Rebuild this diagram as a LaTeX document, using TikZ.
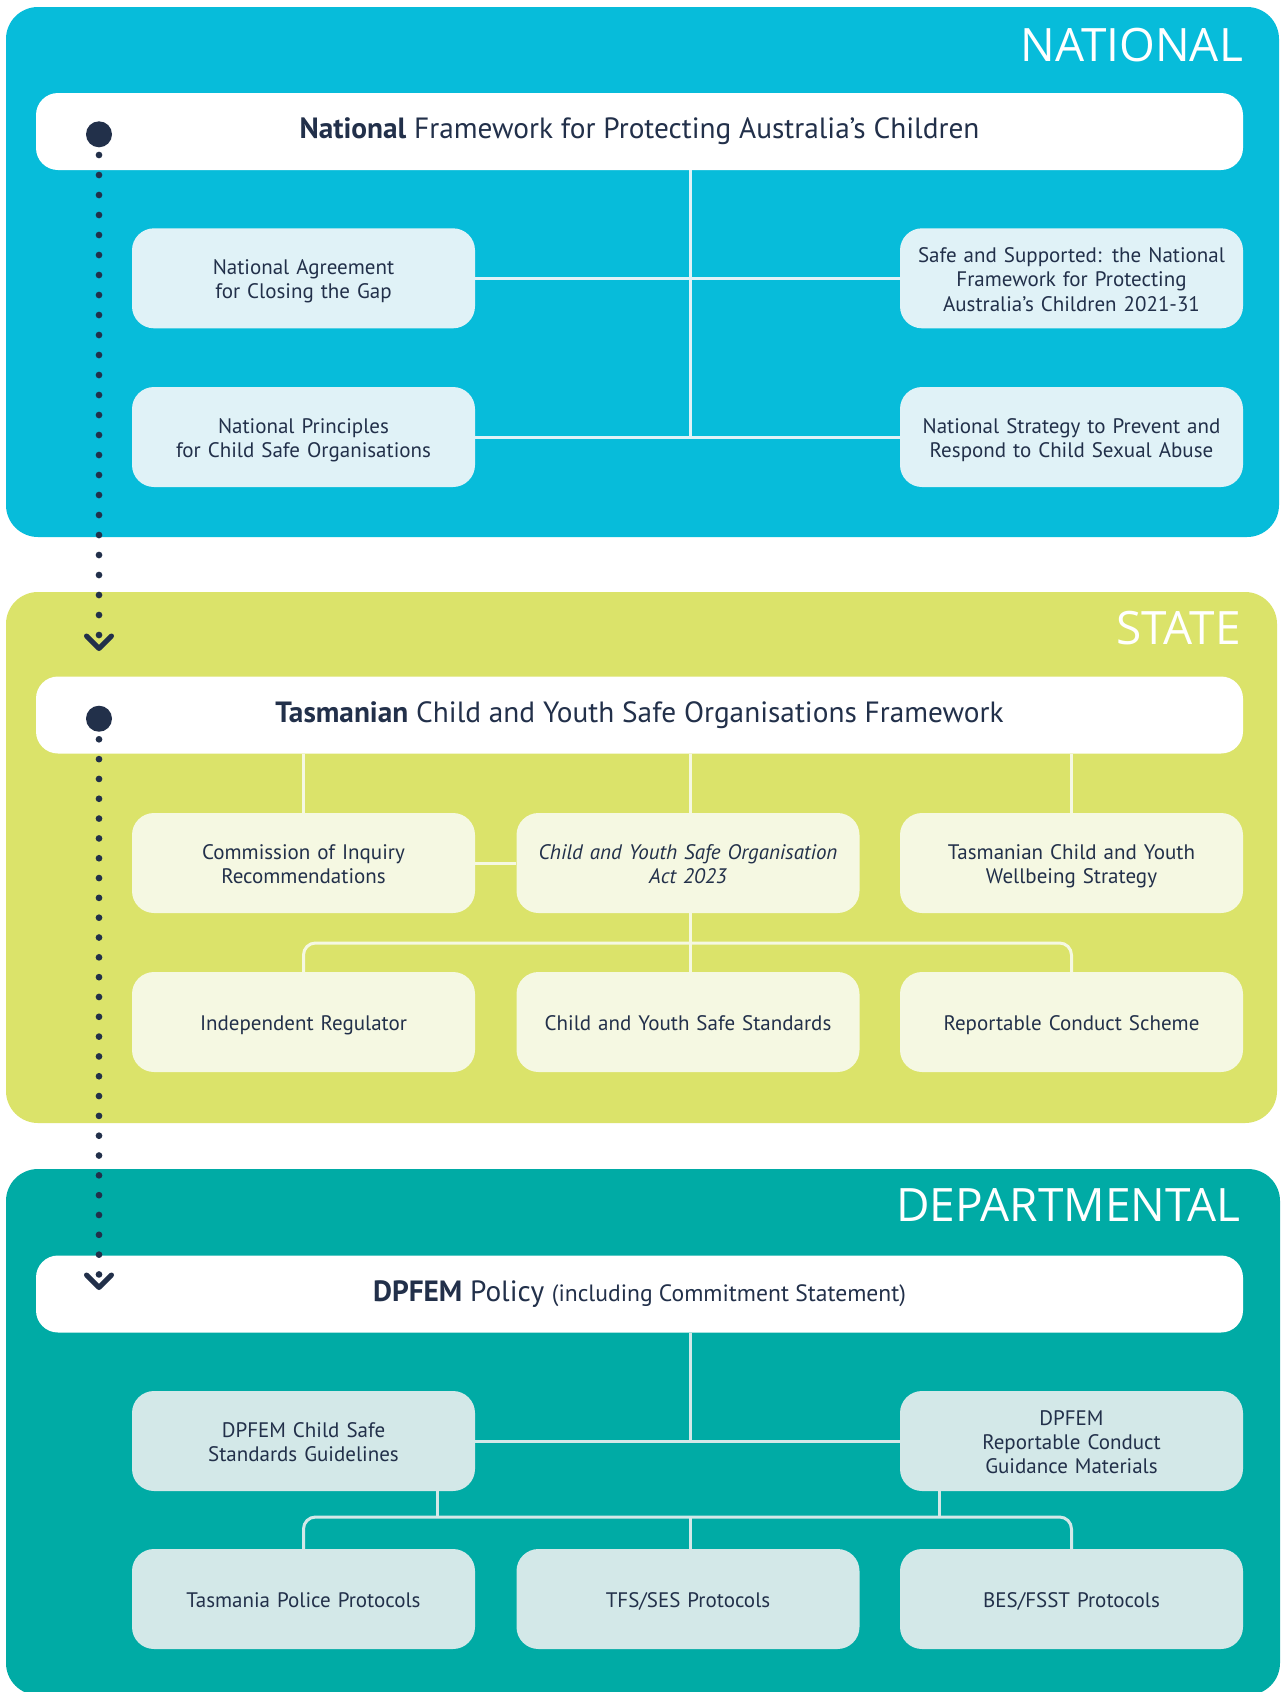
\documentclass[tikz,border=0pt]{standalone}
\usepackage{fontspec}
\setmainfont{PT Sans}
\newfontfamily\titlefont{Open Sans}
\definecolor{natbg}{HTML}{07BCDA}
\definecolor{natbox}{HTML}{E0F2F7}
\definecolor{stbg}{HTML}{DBE36A}
\definecolor{stbox}{HTML}{F5F8E2}
\definecolor{depbg}{HTML}{00ABA5}
\definecolor{depbox}{HTML}{D3E8E8}
\definecolor{ink}{HTML}{22304A}
\begin{document}
\begin{tikzpicture}[x=1pt,y=-1pt,
  panel/.style={rounded corners=32pt},
  hdr/.style={fill=white, rounded corners=22pt, minimum width=1207pt, minimum height=77pt, inner sep=0pt, text=ink, font=\fontsize{29.3}{33}\selectfont},
  subbox/.style={rounded corners=22pt, minimum width=343pt, minimum height=100pt, inner sep=0pt, text width=330pt, align=center, text=ink, font=\fontsize{21}{24.3}\selectfont, execute at begin node={\rule{0pt}{22.5pt}}, execute at end node={\rule[-5.5pt]{0pt}{1pt}}},
  natsub/.style={subbox, fill=natbox},
  stsub/.style={subbox, fill=stbox},
  depsub/.style={subbox, fill=depbox},
  paneltitle/.style={text=white, font=\titlefont\fontsize{46}{50}\selectfont, anchor=base east, inner sep=0pt},
  natln/.style={draw=natbox, line width=3pt},
  stln/.style={draw=stbox, line width=3pt},
  depln/.style={draw=depbox, line width=3pt},
  bigdot/.style={circle, fill=ink, minimum size=26pt, inner sep=0pt},
  dotln/.style={draw=ink, line width=6.7pt, line cap=round, dash pattern=on 0pt off #1},
  chev/.style={draw=ink, line width=5pt, line cap=round, line join=round}
]
\useasboundingbox (0,0) rectangle (1280,1692);
\fill[white] (0,0) rectangle (1280,1692);

% panels
\fill[natbg, panel] (6,7) rectangle (1279,537);
\fill[stbg, panel] (6,592) rectangle (1277,1123);
\fill[depbg, panel] (6,1169) rectangle (1280,1695);

\node[paneltitle] (tN) at (1243,61) {NATIONAL};
\node[paneltitle] (tS) at (1241,644) {STATE};
\node[paneltitle] (tD) at (1241,1221) {DEPARTMENTAL};

% ---------- NATIONAL ----------
\node[hdr] (hN) at (639.5,131.5) {\textbf{National} Framework for Protecting Australia’s Children};
\node[natsub] (NA) at (303.5,278.3) {National Agreement\\for Closing the Gap};
\node[natsub] (NP) at (303.5,437) {National Principles\\for Child Safe Organisations};
\node[natsub] (SS) at (1071.5,278.3) {Safe and Supported: the National\\Framework for Protecting\\Australia’s Children 2021-31};
\node[natsub] (NS) at (1071.5,437) {National Strategy to Prevent and\\Respond to Child Sexual Abuse};
\coordinate (trN) at (690,0);
\draw[natln] (hN.south -| trN) -- (NP.east -| trN);
\draw[natln] (NA.east) -- (SS.west);
\draw[natln] (NP.east) -- (NS.west);

% ---------- STATE ----------
\node[hdr] (hS) at (639.5,715) {\textbf{Tasmanian} Child and Youth Safe Organisations Framework};
\node[stsub] (CI) at (303.5,863) {Commission of Inquiry\\Recommendations};
\node[stsub] (ACT) at (688,863) {\itshape Child and Youth Safe Organisation\\Act 2023};
\node[stsub] (TW) at (1071.5,863) {Tasmanian Child and Youth\\Wellbeing Strategy};
\node[stsub] (IR) at (303.5,1022) {Independent Regulator};
\node[stsub] (CS) at (688,1022) {Child and Youth Safe Standards};
\node[stsub] (RC) at (1071.5,1022) {Reportable Conduct Scheme};
\draw[stln] (hS.south -| CI.north) -- (CI.north);
\draw[stln] (hS.south -| trN) -- (ACT.north -| trN);
\draw[stln] (hS.south -| TW.north) -- (TW.north);
\draw[stln] (CI.east) -- (ACT.west);
\coordinate (brS) at (690,943);
\draw[stln] (ACT.south -| trN) -- (CS.north -| trN);
\draw[stln, rounded corners=12pt] (IR.north) |- (brS) -| (RC.north);

% ---------- DEPARTMENTAL ----------
\node[hdr] (hD) at (639.5,1294) {\textbf{DPFEM} Policy {\fontsize{23.6}{27}\selectfont (including Commitment Statement)}};
\node[depsub] (GL) at (303.5,1441) {DPFEM Child Safe\\Standards Guidelines};
\node[depsub] (RM) at (1071.5,1441) {DPFEM\\Reportable Conduct\\Guidance Materials};
\node[depsub] (TP) at (303.5,1599) {Tasmania Police Protocols};
\node[depsub] (TFS) at (688,1599) {TFS/SES Protocols};
\node[depsub] (BES) at (1071.5,1599) {BES/FSST Protocols};
\draw[depln] (hD.south -| trN) -- (GL.east -| trN);
\draw[depln] (GL.east) -- (RM.west);
\coordinate (brD) at (690,1517);
\coordinate (dl) at (437,1517);
\coordinate (dr) at (939,1517);
\draw[depln] (GL.south -| dl) -- (dl);
\draw[depln] (RM.south -| dr) -- (dr);
\draw[depln] (brD) -- (TFS.north -| brD);
\draw[depln, rounded corners=12pt] (TP.north) |- (brD) -| (BES.north);

% ---------- flow dots ----------
\node[bigdot] (dA) at (99,134.3) {};
\node[bigdot] (dB) at (99,718.7) {};
\coordinate (sA) at (99,155);
\coordinate (eA) at (99,635.5);
\coordinate (sB) at (99,739.3);
\coordinate (eB) at (99,1274.8);
\draw[dotln=20pt] (sA) -- (eA);
\draw[dotln=19.82pt] (sB) -- (eB);
\coordinate (aA) at (99,648.5);
\coordinate (aB) at (99,1287.5);
\draw[chev] ([xshift=-12.5pt,yshift=12.5pt]aA) -- (aA) -- ([xshift=12.5pt,yshift=12.5pt]aA);
\draw[chev] ([xshift=-12.5pt,yshift=12.5pt]aB) -- (aB) -- ([xshift=12.5pt,yshift=12.5pt]aB);
\end{tikzpicture}
\end{document}
